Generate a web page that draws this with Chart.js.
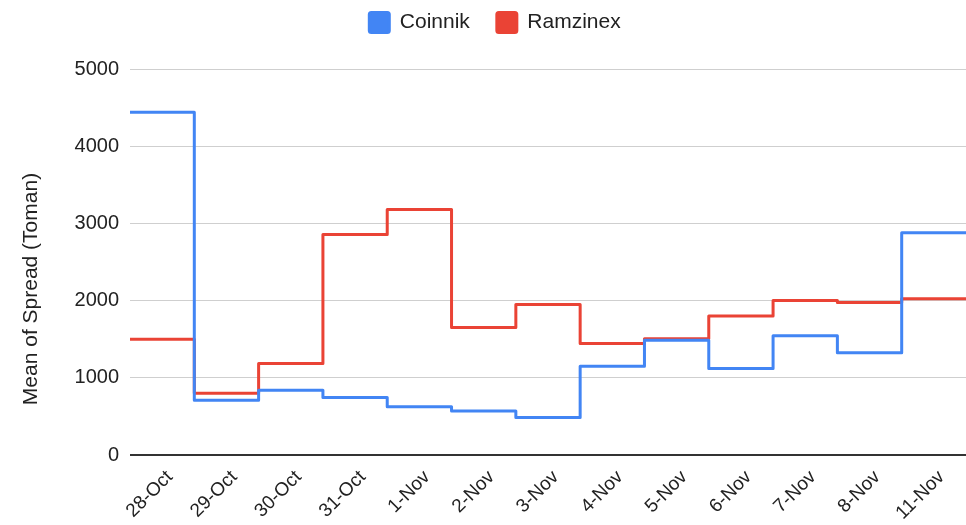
<!DOCTYPE html>
<html>
<head>
<meta charset="utf-8">
<script src="https://cdn.jsdelivr.net/npm/chart.js@4"></script>
<style>
  html, body { margin: 0; padding: 0; background: #fff; }
  #wrap { width: 966px; height: 525px; }
</style>
</head>
<body>
<div id="wrap"><canvas id="spreadChart"></canvas></div>
<script>
// Days on the x axis
const days = ["28-Oct", "29-Oct", "30-Oct", "31-Oct", "1-Nov", "2-Nov", "3-Nov",
  "4-Nov", "5-Nov", "6-Nov", "7-Nov", "8-Nov", "11-Nov"];

// Mean of spread per day (Toman)
const coinnik = [4440, 710, 840, 745, 625, 570, 485, 1150, 1485, 1120, 1545, 1325, 2880];
const ramzinex = [1500, 800, 1185, 2855, 3180, 1650, 1950, 1445, 1505, 1800, 2000, 1975, 2025];

const yTicks = [0, 1000, 2000, 3000, 4000, 5000];
const yTitle = "Mean of Spread (Toman)";

/**
 * Turn daily values into step points: each day holds its value across its band
 */
function toSteps(values) {
  const pts = values.map((v, i) => ({ x: i, y: v }));
  pts.push({ x: values.length, y: values[values.length - 1] });
  return pts;
}

const font = "'Liberation Sans', Arial, sans-serif";

// Keep the legend compact at the top and leave room above the plot
const legendPlacer = {
  id: "legendPlacer",
  beforeInit(chart) {
    const legend = chart.legend;
    const fit = legend.fit;
    legend.fit = function () {
      fit.call(this);
      this.height = 69;
    };
  },
  afterLayout(chart) {
    chart.legend.top = -15;
    chart.legend.left += 12;
    chart.legend.right += 12;
  },
};

// Y axis title, placed a bit lower than the plot centre
const yTitlePlugin = {
  id: "yTitlePlugin",
  afterDraw(chart) {
    const ctx = chart.ctx;
    ctx.save();
    ctx.translate(31, 289);
    ctx.rotate(-Math.PI / 2);
    ctx.font = "21px " + font;
    ctx.fillStyle = "#222";
    ctx.textAlign = "center";
    ctx.textBaseline = "middle";
    ctx.fillText(yTitle, 0, 0);
    ctx.restore();
  },
};

new Chart(document.getElementById("spreadChart").getContext("2d"), {
  type: "line",
  data: {
    datasets: [
      {
        label: "Coinnik",
        data: toSteps(coinnik),
        borderColor: "#4285F4",
        backgroundColor: "#4285F4",
        borderWidth: 3,
        borderJoinStyle: "round",
        stepped: "before",
        pointRadius: 0,
      },
      {
        label: "Ramzinex",
        data: toSteps(ramzinex),
        borderColor: "#EA4335",
        backgroundColor: "#EA4335",
        borderWidth: 3,
        borderJoinStyle: "round",
        stepped: "before",
        pointRadius: 0,
      },
    ],
  },
  plugins: [legendPlacer, yTitlePlugin],
  options: {
    responsive: true,
    maintainAspectRatio: false,
    animation: false,
    layout: { padding: 0 },
    plugins: {
      tooltip: { enabled: false },
      legend: {
        position: "top",
        labels: {
          boxWidth: 20,
          boxHeight: 20,
          useBorderRadius: true,
          borderRadius: 2,
          padding: 27,
          color: "#222",
          font: { family: font, size: 21 },
        },
      },
    },
    scales: {
      x: {
        type: "linear",
        min: 0,
        max: days.length,
        afterBuildTicks: (axis) => {
          // labels sit a little right of each band centre
          axis.ticks = days.map((d, i) => ({ value: i + 0.62 }));
        },
        afterFit: (axis) => {
          axis.height = 70;
          axis.paddingLeft = 0;
          axis.paddingRight = 0;
        },
        grid: { display: false, drawTicks: false },
        border: { display: false },
        ticks: {
          autoSkip: false,
          minRotation: 45,
          maxRotation: 45,
          padding: 11,
          color: "#222",
          font: { family: font, size: 19 },
          callback: (value, index) => days[index],
        },
      },
      y: {
        min: 0,
        max: 5000,
        afterBuildTicks: (axis) => {
          axis.ticks = yTicks.map((v) => ({ value: v }));
        },
        afterFit: (axis) => {
          axis.width = 130;
        },
        grid: {
          drawTicks: false,
          color: (ctx) => (ctx.tick && ctx.tick.value === 0 ? "#333" : "#cfcfcf"),
          lineWidth: (ctx) => (ctx.tick && ctx.tick.value === 0 ? 2 : 1),
        },
        border: { display: false },
        title: { display: false },
        ticks: {
          padding: 11,
          color: "#222",
          font: { family: font, size: 20 },
          callback: (value) => String(value),
        },
      },
    },
  },
});
</script>
</body>
</html>
